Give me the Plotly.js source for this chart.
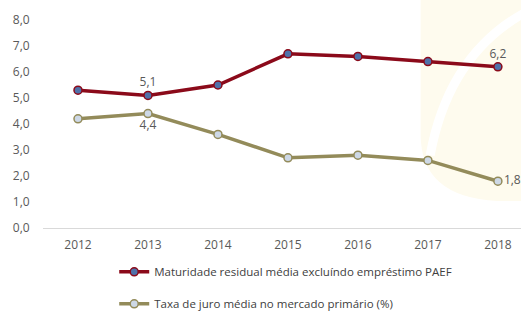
<!DOCTYPE html>
<html><head><meta charset="utf-8">
<script src="https://cdn.plot.ly/plotly-3.0.1.min.js"></script>
<style>body{margin:0;background:#fff}#c{width:521px;height:313px}</style>
</head><body><div id="c"></div>
<script>
const years = ['2012','2013','2014','2015','2016','2017','2018'];
const maturidade = [5.3, 5.1, 5.5, 6.7, 6.6, 6.4, 6.2];
const taxa = [4.2, 4.4, 3.6, 2.7, 2.8, 2.6, 1.8];
const maturidadeLabels = ['', '5,1', '', '', '', '', '6,2'];
const taxaLabels = ['', '4,4', '', '', '', '', '1,8'];
const seriesNames = ['Maturidade residual média excluíndo empréstimo PAEF', 'Taxa de juro média no mercado primário (%)'];

const font = {family: 'Open Sans, Noto Sans, sans-serif', size: 12, color: '#595959'};
const traces = [
  {x: years, y: maturidade, name: seriesNames[0], type: 'scatter', mode: 'lines+markers+text',
   text: maturidadeLabels, textposition: 'top center', textfont: {size: 12, color: '#595959'},
   line: {color: '#8b0a1a', width: 3.5}, cliponaxis: false, legendgroup: 'a',
   marker: {size: 8, color: '#4f71a9', line: {color: '#8b0a1a', width: 1.5}}},
  {x: years, y: taxa, name: seriesNames[1], type: 'scatter', mode: 'lines+markers+text',
   text: taxaLabels, textposition: ['top center','bottom center','top center','top center','top center','top center','middle right'],
   textfont: {size: 12, color: '#595959'}, cliponaxis: false, legendgroup: 'b',
   line: {color: '#938b5a', width: 3.5},
   marker: {size: 8, color: '#cdd8e6', line: {color: '#938b5a', width: 1.5}}}
];
const layout = {
  width: 521, height: 313,
  margin: {l: 43, r: 0, t: 20, b: 85},
  paper_bgcolor: '#ffffff', plot_bgcolor: 'rgba(0,0,0,0)',
  font: font, separators: ', ',
  showlegend: true,
  legend: {orientation: 'v', x: 0.149, xanchor: 'left', yref: 'container', y: 0.178, yanchor: 'top',
    font: {size: 11.5, color: '#404040'}, tracegroupgap: 13, itemwidth: 30, bgcolor: 'rgba(0,0,0,0)'},
  xaxis: {type: 'category', range: [-0.5, 6.33], showgrid: false, showline: true,
    linecolor: '#d9d9d9', linewidth: 1, ticks: 'outside', ticklen: 6, tickcolor: 'rgba(0,0,0,0)', tickfont: font, fixedrange: true},
  yaxis: {range: [0, 8], dtick: 1, tickformat: '.1f', showgrid: false, zeroline: false,
    showline: false, ticks: 'outside', ticklen: 10, tickcolor: 'rgba(0,0,0,0)', tickfont: font, fixedrange: true},
  shapes: [
    {type: 'path', xref: 'paper', yref: 'paper', layer: 'below',
     path: 'M 0.79 1.1 L 1.05 1.1 L 1.05 0.13 L 0.95 0.13 Q 0.79 0.15 0.79 0.45 Z',
     fillcolor: '#fefbee', line: {width: 0}},
    {type: 'path', xref: 'paper', yref: 'paper', layer: 'below',
     path: 'M 1.02 1.05 Q 0.85 0.85 0.81 0.35',
     fillcolor: 'rgba(0,0,0,0)', line: {color: '#ffffff', width: 9}}
  ]
};
Plotly.newPlot('c', traces, layout, {displayModeBar: false, staticPlot: true});
</script></body></html>
